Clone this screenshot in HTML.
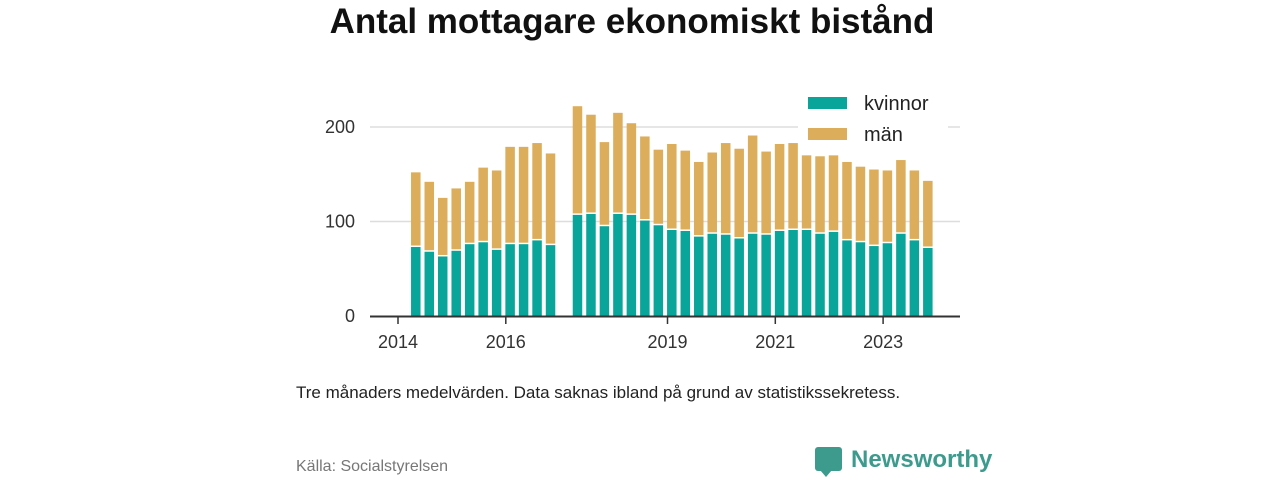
<!DOCTYPE html>
<html><head><meta charset="utf-8"><style>
body{margin:0;width:1280px;height:480px;background:#fff;font-family:"Liberation Sans",sans-serif;overflow:hidden;position:relative}
.t{position:absolute;white-space:nowrap}
</style></head><body>
<div class="t" style="left:0;width:1264px;text-align:center;top:2px;font-size:35px;font-weight:bold;color:#111">Antal mottagare ekonomiskt bistånd</div>
<svg id="c" width="1280" height="480" style="position:absolute;left:0;top:0"></svg>
<div class="t" style="left:296px;top:383px;font-size:17px;color:#222">Tre månaders medelvärden. Data saknas ibland på grund av statistikssekretess.</div>
<div class="t" style="left:296px;top:458px;font-size:16px;color:#777">Källa: Socialstyrelsen</div>
<div style="position:absolute;left:815px;top:447px;width:27px;height:24px;background:#3d9b8e;border-radius:3px"></div>
<div style="position:absolute;left:820px;top:470px;width:0;height:0;border-left:6px solid transparent;border-right:6px solid transparent;border-top:7px solid #3d9b8e"></div>
<div class="t" style="left:851px;top:446px;font-size:24px;font-weight:bold;color:#3d9b8e">Newsworthy</div>
<script>
const quarterIndex=[0,1,2,3,4,5,6,7,8,9,10,12,13,14,15,16,17,18,19,20,21,22,23,24,25,26,27,28,29,30,31,32,33,34,35,36,37,38];
const totals=[152,142,125,135,142,157,154,179,179,183,172,222,213,184,215,204,190,176,182,175,163,173,183,177,191,174,182,183,170,169,170,163,158,155,154,165,154,143];
const kvinnor=[73,68,63,69,76,78,70,76,76,80,75,107,108,95,108,107,101,96,91,90,84,87,86,82,87,86,90,91,91,87,89,80,78,74,77,87,80,72];
const yTicks=[0,100,200];
const xTickYears=[2014,2016,2019,2021,2023];
const svg=document.getElementById('c');const NS='http://www.w3.org/2000/svg';
const y=v=>316-v*0.945;
const xYear=t=>398+(t-2014)*53.9;
const xq=i=>xYear(2014.25+i*0.25+0.08);
function mk(tag,a){const e=document.createElementNS(NS,tag);for(const k in a)e.setAttribute(k,a[k]);svg.appendChild(e);return e;}
yTicks.forEach(v=>{
 if(v>0){const g=mk('line',{x1:370,x2:960,y1:y(v),y2:y(v),stroke:'#ddd','stroke-width':1.5});
 
 }
 const t=mk('text',{x:355,y:y(v)+6,'text-anchor':'end','font-size':18,fill:'#333','font-family':'Liberation Sans'});t.textContent=v;
 
 
});
quarterIndex.forEach((q,i)=>{
 const cx=xq(q),w=9.5;
 const m=mk('rect',{x:cx-w/2,y:y(totals[i]),width:w,height:y(kvinnor[i])-y(totals[i])-1.5,fill:'#dcad5a'});
 
 
 const k=mk('rect',{x:cx-w/2,y:y(kvinnor[i]),width:w,height:316-y(kvinnor[i]),fill:'#0aa59a'});
 
 
});
const ax=mk('line',{x1:370,x2:960,y1:316.5,y2:316.5,stroke:'#333','stroke-width':2});


xTickYears.forEach(yr=>{
 const x=xYear(yr);
 const l=mk('line',{x1:x,x2:x,y1:317,y2:324,stroke:'#333','stroke-width':1.5});
 
 
 const t=mk('text',{x:x,y:348,'text-anchor':'middle','font-size':18,fill:'#333','font-family':'Liberation Sans'});t.textContent=yr;
 
 
});
const bg=mk('rect',{x:798,y:86,width:150,height:64,fill:'#fff'});


[['kvinnor','#0aa59a',103],['män','#dcad5a',134]].forEach(([n,c,yy])=>{
 const r=mk('rect',{x:808,y:yy-6,width:39,height:12,fill:c});
 
 
 const t=mk('text',{x:864,y:yy+7,'font-size':20,fill:'#222','font-family':'Liberation Sans'});t.textContent=n;
 
 
});
</script>
</body></html>
